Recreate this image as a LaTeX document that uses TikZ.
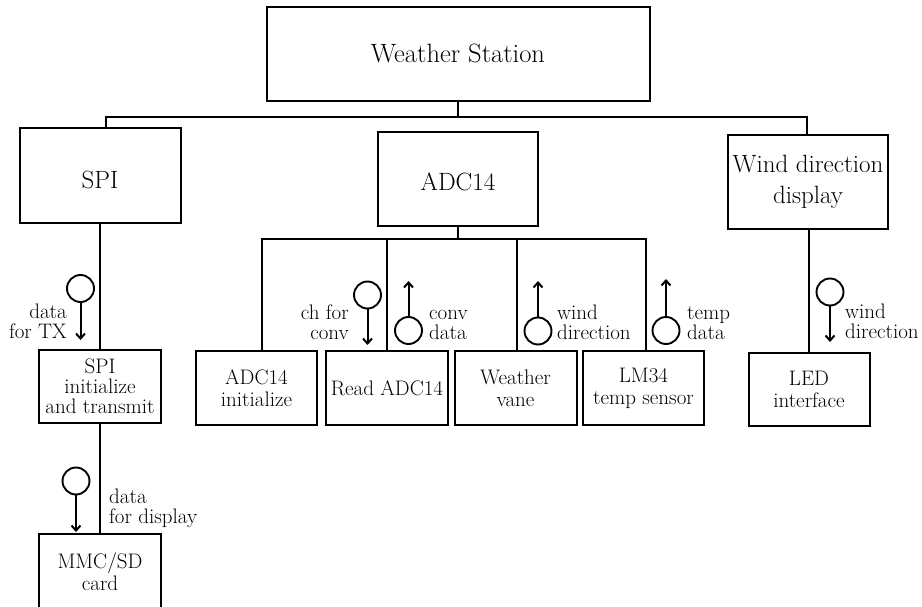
\documentclass[tikz,border=0pt]{standalone}
\usetikzlibrary{arrows.meta}
\begin{document}
\begin{tikzpicture}[x=1pt,y=-1pt,
  box/.style={draw,line width=2pt,rectangle,inner sep=0pt,align=center,
    font=\fontsize{21}{22}\selectfont},
  bigbox/.style={box,font=\fontsize{25}{31}\selectfont},
  link/.style={line width=2pt},
  flowc/.style={draw,circle,line width=1.9pt,minimum size=27pt,inner sep=0pt},
  flowarrow/.style={line width=2pt,-{Straight Barb[length=5pt,width=9pt]}},
  lbl/.style={inner sep=0pt,font=\fontsize{21}{20}\selectfont}
]
\useasboundingbox (0,0) rectangle (922,607);

% top level
\node[bigbox,minimum width=383pt,minimum height=94pt,
  font=\fontsize{26.5}{28}\selectfont,text height=18pt,text depth=0pt] (ws) at (458,54) {Weather Station};

% second level
\node[bigbox,minimum width=161pt,minimum height=95pt,text height=27pt,text depth=0pt] (spi) at (100,175.5) {SPI};
\node[bigbox,minimum width=160pt,minimum height=94pt,text height=24pt,text depth=0pt] (adc) at (458,179) {ADC14};
\node[bigbox,minimum width=160pt,minimum height=94pt] (wdd) at (808,182) {Wind direction\\display};

% third level
\node[box,minimum width=122pt,minimum height=73pt,font=\fontsize{21}{20}\selectfont] (spiinit) at (100,386.5) {SPI\\initialize\\and transmit};
\node[box,minimum width=122pt,minimum height=76pt] (mmc) at (100,572) {MMC/SD\\card};
\node[box,minimum width=121pt,minimum height=74pt] (adcinit) at (256.5,388) {ADC14\\initialize};
\node[box,minimum width=122pt,minimum height=74pt] (readadc) at (387,388) {Read ADC14};
\node[box,minimum width=122pt,minimum height=74pt] (vane) at (515.5,388) {Weather\\vane};
\node[box,minimum width=121.5pt,minimum height=74pt] (lm34) at (643.5,388) {LM34\\temp sensor};
\node[box,minimum width=121pt,minimum height=73pt] (led) at (809,389.5) {LED\\interface};

% main bus
\coordinate (busL) at (106,117);
\coordinate (busR) at (807,117);
\draw[link] (ws.south) -- (ws.south |- busL);
\draw[link] (spi.north -| busL) -- (busL) -- (busR) -- (wdd.north -| busR);

% SPI chain
\draw[link] (spi.south) -- (spiinit.north);
\draw[link] (spiinit.south) -- (mmc.north);

% ADC14 bus
\coordinate (adcL) at (262,239);
\coordinate (adcR) at (646,239);
\coordinate (vaneTap) at (517,239);
\draw[link] (adc.south) -- (adc.south |- adcL);
\draw[link] (adcinit.north -| adcL) -- (adcL) -- (adcR) -- (lm34.north -| adcR);
\draw[link] (readadc.north) -- (readadc.north |- adcL);
\draw[link] (vaneTap) -- (vaneTap |- vane.north);

% wind direction display chain
\draw[link] (led.north) -- (led.north |- wdd.south);

% data couples (label anchors sit on the baseline of the last line)
\node[flowc] (c1) at (80.5,288.5) {};
\coordinate (t1) at (80.5,340);
\draw[flowarrow] (c1) -- (t1);
\node[lbl,anchor=base east,align=right] (l1) at (67,338) {data\\for TX};

\node[flowc] (c2) at (76,481) {};
\coordinate (t2) at (76,532);
\draw[flowarrow] (c2) -- (t2);
\node[lbl,anchor=base west,align=left] (l2) at (109,523) {data\\for display};

\node[flowc] (c3) at (367.5,295) {};
\coordinate (t3) at (367.5,345);
\draw[flowarrow] (c3) -- (t3);
\node[lbl,anchor=base east,align=right] (l3) at (349,339) {ch for\\conv};

\node[flowc] (c4) at (408.5,330.5) {};
\coordinate (t4) at (408.5,281);
\draw[flowarrow] (c4) -- (t4);
\node[lbl,anchor=base west,align=left] (l4) at (429,339) {conv\\data};

\node[flowc] (c5) at (538,331) {};
\coordinate (t5) at (538,281);
\draw[flowarrow] (c5) -- (t5);
\node[lbl,anchor=base west,align=left] (l5) at (557,339) {wind\\direction};

\node[flowc] (c6) at (666,330.5) {};
\coordinate (t6) at (666,279);
\draw[flowarrow] (c6) -- (t6);
\node[lbl,anchor=base west,align=left] (l6) at (687,339) {temp\\data};

\node[flowc] (c7) at (830,292) {};
\coordinate (t7) at (830,342);
\draw[flowarrow] (c7) -- (t7);
\node[lbl,anchor=base west,align=left] (l7) at (845,338) {wind\\direction};
\end{tikzpicture}
\end{document}
